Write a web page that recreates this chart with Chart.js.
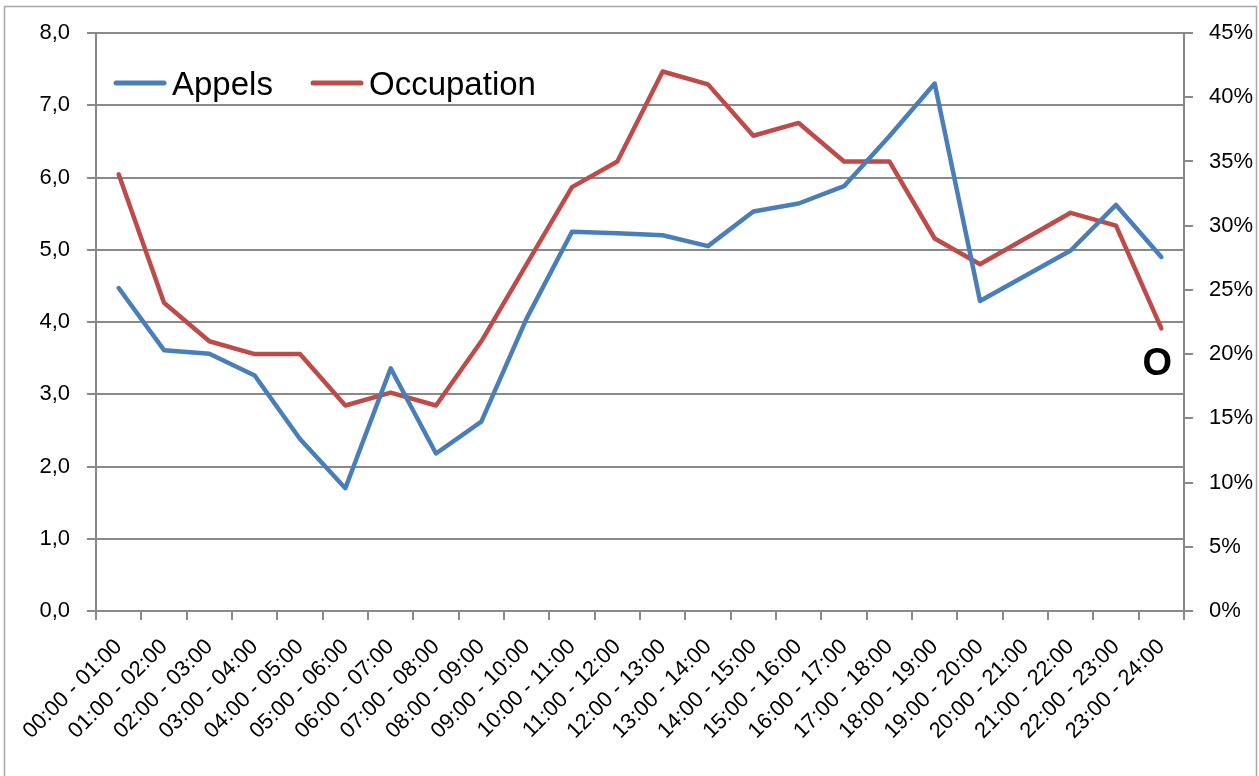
<!DOCTYPE html>
<html>
<head>
<meta charset="utf-8">
<script src="https://cdn.jsdelivr.net/npm/chart.js@4"></script>
<style>
  html, body { margin: 0; padding: 0; background: #ffffff; }
  #c { display: block; }
</style>
</head>
<body>
<canvas id="c" width="1259" height="776"></canvas>
<script>
const categories = ['00:00 - 01:00','01:00 - 02:00','02:00 - 03:00','03:00 - 04:00','04:00 - 05:00','05:00 - 06:00',
  '06:00 - 07:00','07:00 - 08:00','08:00 - 09:00','09:00 - 10:00','10:00 - 11:00','11:00 - 12:00',
  '12:00 - 13:00','13:00 - 14:00','14:00 - 15:00','15:00 - 16:00','16:00 - 17:00','17:00 - 18:00',
  '18:00 - 19:00','19:00 - 20:00','20:00 - 21:00','21:00 - 22:00','22:00 - 23:00','23:00 - 24:00'];
const appels = [4.47,3.61,3.56,3.26,2.38,1.70,3.36,2.18,2.62,4.05,5.25,5.23,5.20,5.05,5.53,5.64,5.88,6.57,7.30,4.29,4.64,4.99,5.62,4.90];
const occupation = [0.34,0.24,0.21,0.20,0.20,0.16,0.17,0.16,0.21,0.27,0.33,0.35,0.42,0.41,0.37,0.38,0.35,0.35,0.29,0.27,0.29,0.31,0.30,0.22];
const occupationLabels = ['','','','','','','','','','','','','','','','','','','','','','','','O'];
const leftTicks = [0,1,2,3,4,5,6,7,8];
const rightTicks = [0,0.05,0.10,0.15,0.20,0.25,0.30,0.35,0.40,0.45];

const FONT = "'Liberation Sans', Arial, sans-serif";
const GRID = '#898989';

const framePlugin = {
  id: 'frame',
  beforeDraw(chart) {
    const ctx = chart.ctx;
    ctx.save();
    ctx.fillStyle = '#ffffff';
    ctx.fillRect(0, 0, chart.width, chart.height);
    ctx.strokeStyle = '#a6a6a6';
    ctx.lineWidth = 1.5;
    ctx.beginPath();
    ctx.moveTo(4.5, chart.height + 2);
    ctx.lineTo(4.5, 6.5);
    ctx.lineTo(1256.5, 6.5);
    ctx.lineTo(1256.5, chart.height + 2);
    ctx.stroke();
    ctx.restore();
  }
};

const legendPlugin = {
  id: 'insideLegend',
  afterDraw(chart) {
    const ctx = chart.ctx;
    const items = [{x: 114}, {x: 311}];
    ctx.save();
    chart.data.datasets.forEach((ds, i) => {
      const x0 = items[i].x;
      ctx.strokeStyle = ds.borderColor;
      ctx.lineWidth = 5;
      ctx.lineCap = 'round';
      ctx.beginPath();
      ctx.moveTo(x0 + 2, 83);
      ctx.lineTo(x0 + 50, 83);
      ctx.stroke();
      ctx.fillStyle = '#000000';
      ctx.font = '33px ' + FONT;
      ctx.textBaseline = 'alphabetic';
      ctx.textAlign = 'left';
      ctx.fillText(ds.label, x0 + 58, 95);
    });
    ctx.restore();
  }
};

const dataLabelPlugin = {
  id: 'dataLabels',
  afterDatasetsDraw(chart) {
    const ctx = chart.ctx;
    const meta = chart.getDatasetMeta(1);
    ctx.save();
    ctx.fillStyle = '#000000';
    ctx.font = 'bold 38px ' + FONT;
    ctx.textAlign = 'center';
    ctx.textBaseline = 'middle';
    meta.data.forEach((pt, i) => {
      const t = occupationLabels[i];
      if (t) ctx.fillText(t, pt.x - 4, pt.y + 36);
    });
    ctx.restore();
  }
};

new Chart(document.getElementById('c'), {
  type: 'line',
  data: {
    labels: categories,
    datasets: [
      { label: 'Appels', data: appels, yAxisID: 'y', borderColor: '#4a7ebb', borderWidth: 4.5,
        pointRadius: 0, tension: 0, borderCapStyle: 'round', borderJoinStyle: 'round', fill: false },
      { label: 'Occupation', data: occupation, yAxisID: 'y1', borderColor: '#be4b48', borderWidth: 4.5,
        pointRadius: 0, tension: 0, borderCapStyle: 'round', borderJoinStyle: 'round', fill: false }
    ]
  },
  options: {
    responsive: false,
    animation: false,
    devicePixelRatio: 1,
    layout: { padding: { top: 33, left: 0, right: 0, bottom: 0 } },
    plugins: { legend: { display: false }, tooltip: { enabled: false } },
    scales: {
      x: {
        type: 'category',
        offset: true,
        grid: { offset: true, drawOnChartArea: false, drawTicks: true, tickLength: 9, color: GRID, lineWidth: 2 },
        border: { display: true, color: GRID, width: 2 },
        ticks: { autoSkip: false, maxRotation: 45, minRotation: 45, padding: 14, color: '#000000',
          font: { family: FONT, size: 22 } },
        afterFit(scale) { scale.height = 165; scale.paddingLeft = 0; scale.paddingRight = 0; }
      },
      y: {
        position: 'left',
        min: 0, max: 8,
        afterBuildTicks(scale) { scale.ticks = leftTicks.map(v => ({ value: v })); },
        grid: { color: GRID, lineWidth: 2, tickLength: 9 },
        border: { display: true, color: GRID, width: 2 },
        ticks: { padding: 17, color: '#000000', font: { family: FONT, size: 22 },
          callback: v => Number(v).toFixed(1).replace('.', ',') },
        afterFit(scale) { scale.width = 96; }
      },
      y1: {
        position: 'right',
        min: 0, max: 0.45,
        afterBuildTicks(scale) { scale.ticks = rightTicks.map(v => ({ value: v })); },
        grid: { drawOnChartArea: false, color: GRID, lineWidth: 2, tickLength: 9 },
        border: { display: true, color: GRID, width: 2 },
        ticks: { padding: 16, color: '#000000', font: { family: FONT, size: 22 },
          callback: v => Math.round(v * 100) + '%' },
        afterFit(scale) { scale.width = 75; }
      }
    }
  },
  plugins: [framePlugin, legendPlugin, dataLabelPlugin]
});
</script>
</body>
</html>
